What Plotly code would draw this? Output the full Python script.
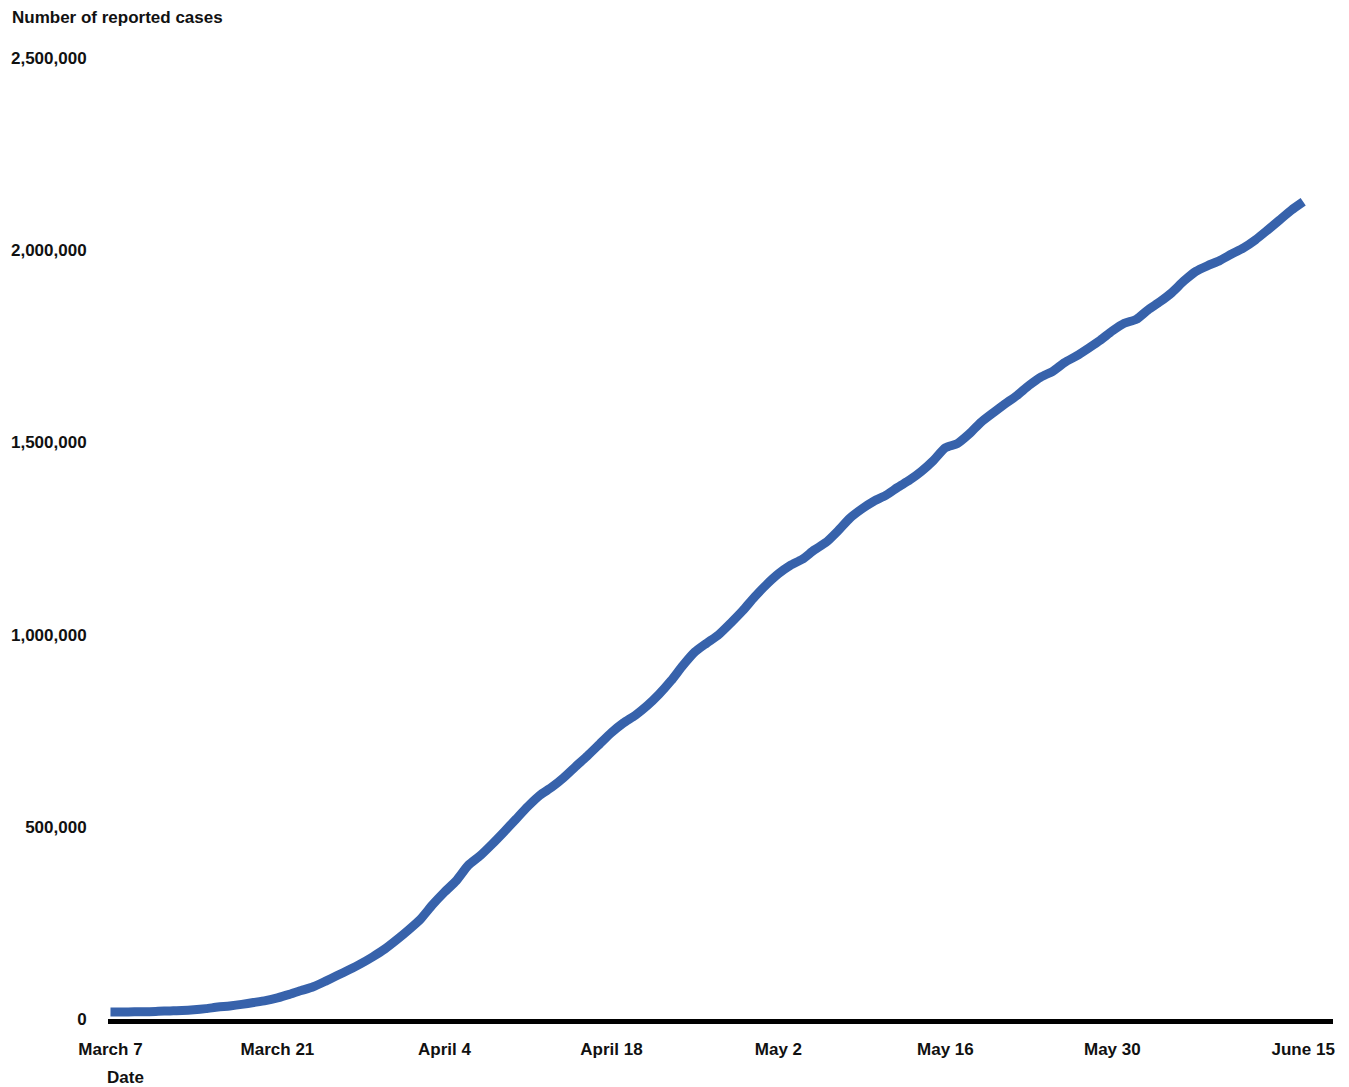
import pandas as pd
import plotly.graph_objects as go

# Cumulative reported cases (thousands), one value per day from March 7 to June 15
start_date = "2020-03-07"
cases_thousands = [
    18, 18, 19, 19, 20, 21, 22, 24, 27, 31,
    34, 38, 43, 48, 55, 64, 74, 84, 98, 113,
    128, 144, 162, 182, 206, 232, 260, 297, 330, 360,
    400, 425, 455, 487, 520, 553, 582, 603, 628, 657,
    685, 715, 745, 770, 790, 815, 845, 880, 920, 955,
    978, 1000, 1030, 1062, 1098, 1130, 1158, 1180, 1196, 1220,
    1240, 1270, 1303, 1327, 1347, 1362, 1383, 1402, 1425, 1453,
    1486, 1497, 1522, 1553, 1577, 1600, 1622, 1648, 1670, 1685,
    1708, 1725, 1745, 1766, 1790, 1810, 1820, 1845, 1866, 1890,
    1920, 1945, 1960, 1973, 1990, 2006, 2027, 2052, 2078, 2104,
    2126,
]
x_tick_dates = ["2020-03-07", "2020-03-21", "2020-04-04", "2020-04-18",
                "2020-05-02", "2020-05-16", "2020-05-30", "2020-06-15"]
x_tick_labels = ["March 7", "March 21", "April 4", "April 18",
                 "May 2", "May 16", "May 30", "June 15"]
y_tick_values = [0, 500000, 1000000, 1500000, 2000000, 2500000]
y_tick_labels = ["0", "500,000", "1,000,000", "1,500,000", "2,000,000", "2,500,000"]

dates = pd.date_range(start_date, periods=len(cases_thousands), freq="D")
cases = [v * 1000 for v in cases_thousands]

FONT = "Liberation Sans, Arial, sans-serif"

fig = go.Figure()
fig.add_trace(go.Scatter(
    x=dates, y=cases, mode="lines",
    line=dict(color="#3762AB", width=9, shape="spline", smoothing=0.6),
    showlegend=False,
))

fig.update_layout(
    width=1341, height=1079,
    margin=dict(l=100, r=16, t=50, b=68),
    paper_bgcolor="white", plot_bgcolor="white",
    font=dict(family=FONT, size=17, color="#111111"),
    xaxis=dict(
        type="date", automargin=False,
        range=["2020-03-06 19:00", "2020-06-17 12:00"],
        tickvals=x_tick_dates, ticktext=x_tick_labels,
        tickfont=dict(family=FONT, size=17, color="#111111", weight="bold"),
        showgrid=False, zeroline=False,
        showline=True, linecolor="black", linewidth=5,
        ticks="outside", ticklen=11, tickcolor="rgba(0,0,0,0)",
    ),
    yaxis=dict(
        automargin=False,
        range=[0, 2500000],
        tickvals=y_tick_values, ticktext=y_tick_labels,
        tickfont=dict(family=FONT, size=17, color="#111111", weight="bold"),
        showgrid=False, zeroline=False, showline=False,
        ticks="outside", ticklen=17, tickcolor="rgba(0,0,0,0)",
    ),
    annotations=[
        dict(text="<b>Number of reported cases</b>", xref="paper", yref="paper",
             x=0, y=1.0, yshift=41, xshift=-98, xanchor="left", yanchor="middle",
             showarrow=False, font=dict(family=FONT, size=17, color="#111111")),
        dict(text="<b>Date</b>", xref="x", yref="paper",
             x="2020-03-08 06:00", y=0, yshift=-58, xanchor="center", yanchor="middle",
             showarrow=False, font=dict(family=FONT, size=17, color="#111111")),
    ],
)

fig.write_html("out.html")
